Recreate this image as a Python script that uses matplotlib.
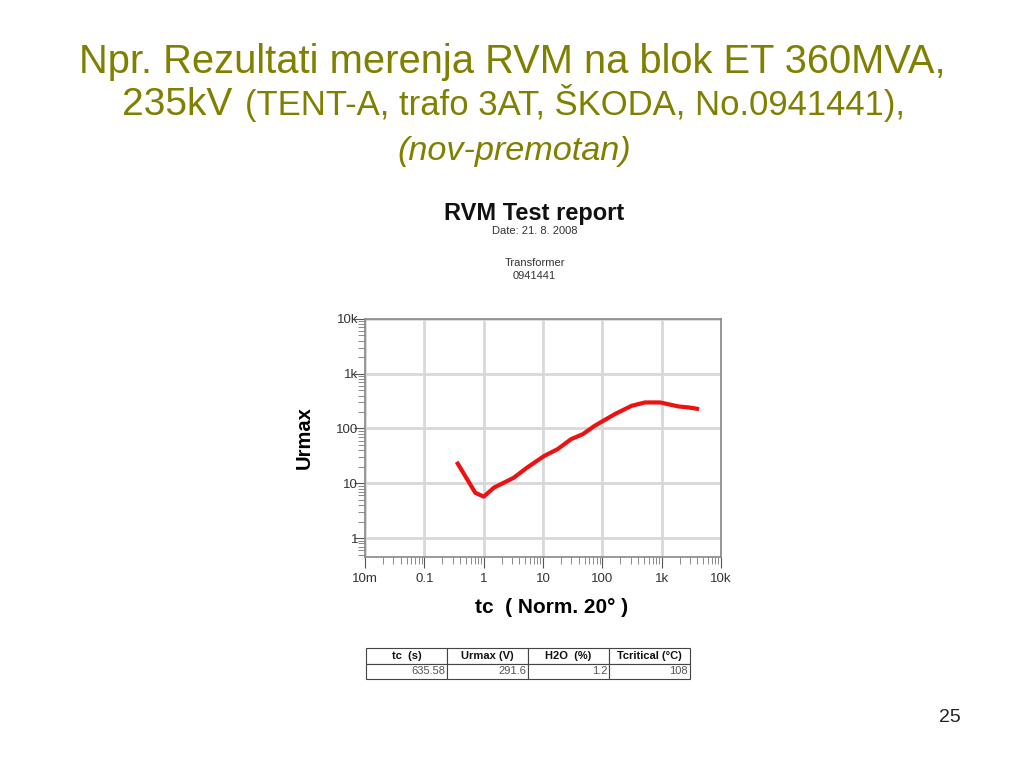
import numpy as np
import matplotlib.pyplot as plt
from matplotlib.ticker import FixedLocator, LogLocator, NullFormatter

plt.rcParams['font.family'] = ['Liberation Sans', 'DejaVu Sans']

# curve (tc in s, Urmax in V)
tc = [0.35, 0.72, 1.0, 1.48, 3.2, 5.4, 10.5, 17.6, 29.7, 47, 74, 162, 311, 522, 940, 1940, 2870, 4250]
urmax = [24.6, 6.7, 5.7, 8.3, 12.6, 19.4, 31.6, 42, 64, 79, 112, 183, 260, 299, 299, 252, 242, 226]

x_ticks = [0.01, 0.1, 1, 10, 100, 1000, 10000]
x_labels = ['10m', '0.1', '1', '10', '100', '1k', '10k']
y_ticks = [1, 10, 100, 1000, 10000]
y_labels = ['1', '10', '100', '1k', '10k']

col_labels = ['tc  (s)', 'Urmax (V)', 'H2O  (%)', 'Tcritical (°C)']
row_values = ['635.58', '291.6', '1.2', '108']

olive = '#7f7f00'

fig = plt.figure(figsize=(10.24, 7.68), dpi=100)
fig.patch.set_facecolor('white')

# slide title
fig.text(0.5, 1 - 73 / 768, 'Npr. Rezultati merenja RVM na blok ET 360MVA,',
         ha='center', va='baseline', fontsize=28.7, color=olive)
fig.text(122 / 1024, 1 - 115 / 768, '235kV', ha='left', va='baseline', fontsize=28, color=olive)
fig.text(245 / 1024, 1 - 115 / 768, '(TENT-A, trafo 3AT, ŠKODA, No.0941441),',
         ha='left', va='baseline', fontsize=24.9, color=olive)
fig.text(514 / 1024, 1 - 160 / 768, '(nov-premotan)', ha='center', va='baseline',
         fontsize=24.7, color=olive, style='italic')

# report header
fig.text(0.522, 0.722, 'RVM Test report', ha='center', va='center',
         fontsize=17, fontweight='bold', color='#111111')
fig.text(0.522, 0.699, 'Date: 21. 8. 2008', ha='center', va='center', fontsize=8, color='#333333')
fig.text(0.522, 0.657, 'Transformer', ha='center', va='center', fontsize=8, color='#333333')
fig.text(0.522, 0.641, '0941441', ha='center', va='center', fontsize=8, color='#333333')

ax = fig.add_axes([0.3565, 0.2747, 0.3477, 0.31])
ax.set_xscale('log')
ax.set_yscale('log')
ax.set_xlim(0.01, 10000)
ax.set_ylim(0.45, 10000)

ax.plot(tc, urmax, color='#ee1111', lw=3, solid_capstyle='butt', zorder=3)

ax.xaxis.set_major_locator(FixedLocator(x_ticks))
ax.set_xticklabels(x_labels)
ax.yaxis.set_major_locator(FixedLocator(y_ticks))
ax.set_yticklabels(y_labels)
ax.xaxis.set_minor_locator(LogLocator(base=10, subs=np.arange(2, 10)))
ax.yaxis.set_minor_locator(LogLocator(base=10, subs=np.arange(2, 10)))
ax.xaxis.set_minor_formatter(NullFormatter())
ax.yaxis.set_minor_formatter(NullFormatter())

ax.grid(True, which='major', color='#d8d8d8', lw=2)
for s in ax.spines.values():
    s.set_color('#888888')
    s.set_linewidth(1.2)
ax.tick_params(which='major', length=8, color='#555555', labelsize=9.5, labelcolor='#333333')
ax.tick_params(which='minor', length=5, color='#777777')
ax.tick_params(axis='y', which='both', pad=-3)

ax.set_xlabel('tc  ( Norm. 20° )', fontsize=15, fontweight='bold')
ax.xaxis.set_label_coords(0.523, -0.17)
ax.set_ylabel('Urmax', fontsize=14.5, fontweight='bold', labelpad=16)

# results table
tax = fig.add_axes([0.3575, 0.116, 0.316, 0.04])
tax.axis('off')
tbl = tax.table(cellText=[row_values], colLabels=col_labels, cellLoc='right',
                bbox=[0, 0, 1, 1])
tbl.auto_set_font_size(False)
for (r, c), cell in tbl.get_celld().items():
    cell.set_linewidth(0.8)
    cell.set_edgecolor('#444444')
    cell.PAD = 0.02
    txt = cell.get_text()
    txt.set_fontsize(8)
    if r == 0:
        txt.set_fontweight('bold')
        txt.set_color('#111111')
    else:
        txt.set_color('#555555')

fig.text(0.928, 0.066, '25', ha='center', va='center', fontsize=14, color='#222222')

fig.savefig('out.png', dpi=100, facecolor='white')
